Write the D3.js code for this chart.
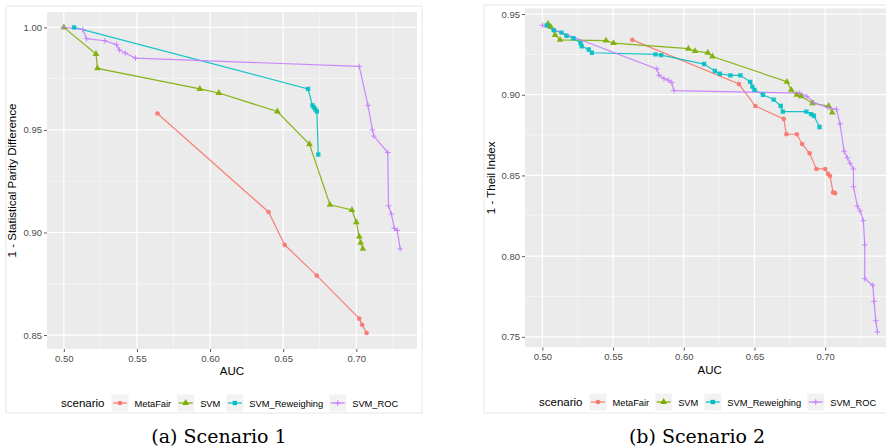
<!DOCTYPE html>
<html>
<head>
<meta charset="utf-8">
<script src="https://cdn.jsdelivr.net/npm/d3@7"></script>
<style>
  body { margin: 0; background: #fff; }
  svg { display: block; font-family: "Liberation Sans", Arial, sans-serif; }
</style>
</head>
<body>
<svg id="chart" width="886" height="447"></svg>
<script>
// Series names and colours (ggplot defaults)
const scenarios = ['MetaFair', 'SVM', 'SVM_Reweighing', 'SVM_ROC'];
const colors = ['#F8766D', '#7CAE00', '#00BFC4', '#C77CFF'];
const shapes = ['circle', 'triangle', 'square', 'plus'];

// Scenario 1: [AUC, 1 - Statistical Parity Difference]
const s1MetaFair = [[0.564, 0.958], [0.640, 0.910], [0.651, 0.894], [0.673, 0.879], [0.702, 0.858], [0.704, 0.855], [0.707, 0.851]];
const s1SVM = [[0.500, 1.000], [0.522, 0.987], [0.523, 0.980], [0.593, 0.970], [0.606, 0.968], [0.646, 0.959], [0.668, 0.943],
  [0.682, 0.9135], [0.697, 0.911], [0.700, 0.905], [0.702, 0.898], [0.703, 0.895], [0.7045, 0.892]];
const s1Reweighing = [[0.507, 1.000], [0.667, 0.970], [0.670, 0.962], [0.671, 0.961], [0.672, 0.960], [0.673, 0.959], [0.674, 0.938]];
const s1ROC = [[0.500, 1.000], [0.513, 0.999], [0.5155, 0.9945], [0.528, 0.9935], [0.536, 0.9916], [0.538, 0.989], [0.542, 0.9875],
  [0.549, 0.985], [0.702, 0.981], [0.708, 0.962], [0.711, 0.950], [0.712, 0.947], [0.7215, 0.939], [0.722, 0.913], [0.724, 0.909],
  [0.726, 0.902], [0.728, 0.901], [0.730, 0.892]];

// Scenario 2: [AUC, 1 - Theil Index]
const s2MetaFair = [[0.5636, 0.934], [0.639, 0.9066], [0.6506, 0.893], [0.6707, 0.885], [0.6726, 0.8755], [0.680, 0.8755],
  [0.6837, 0.8695], [0.689, 0.8637], [0.6938, 0.854], [0.700, 0.854], [0.702, 0.851], [0.7035, 0.8496], [0.7056, 0.8395], [0.707, 0.839]];
const s2SVM = [[0.504, 0.944], [0.506, 0.942], [0.509, 0.937], [0.5125, 0.934], [0.545, 0.9335], [0.5503, 0.932], [0.6033, 0.9285],
  [0.608, 0.927], [0.617, 0.926], [0.6203, 0.9237], [0.673, 0.908], [0.676, 0.903], [0.680, 0.900], [0.683, 0.899], [0.691, 0.8947],
  [0.7025, 0.893], [0.705, 0.889]];
const s2Reweighing = [[0.503, 0.943], [0.508, 0.940], [0.5135, 0.9385], [0.517, 0.9365], [0.522, 0.935], [0.527, 0.932], [0.5278, 0.930],
  [0.5328, 0.928], [0.535, 0.926], [0.580, 0.925], [0.584, 0.9245], [0.6144, 0.919], [0.622, 0.9147], [0.6255, 0.913], [0.633, 0.912],
  [0.640, 0.912], [0.647, 0.908], [0.6485, 0.905], [0.650, 0.903], [0.656, 0.900], [0.6636, 0.897], [0.6686, 0.893], [0.670, 0.8895],
  [0.6867, 0.8895], [0.690, 0.888], [0.692, 0.887], [0.696, 0.880]];
const s2ROC = [[0.500, 0.943], [0.581, 0.916], [0.5825, 0.912], [0.586, 0.910], [0.589, 0.909], [0.5915, 0.9075], [0.593, 0.9025],
  [0.682, 0.901], [0.687, 0.899], [0.692, 0.895], [0.702, 0.892], [0.708, 0.891], [0.7105, 0.882], [0.7134, 0.865], [0.7157, 0.861],
  [0.7176, 0.8575], [0.720, 0.854], [0.720, 0.843], [0.7228, 0.831], [0.7247, 0.828], [0.727, 0.822], [0.728, 0.807], [0.728, 0.786],
  [0.7337, 0.782], [0.7346, 0.772], [0.7358, 0.760], [0.737, 0.753]];

// Tick values
const xTicks = [0.50, 0.55, 0.60, 0.65, 0.70];
const xMinor = [0.525, 0.575, 0.625, 0.675, 0.725];
const y1Ticks = [0.85, 0.90, 0.95, 1.00];
const y1Minor = [0.875, 0.925, 0.975];
const y2Ticks = [0.75, 0.80, 0.85, 0.90, 0.95];
const y2Minor = [0.775, 0.825, 0.875, 0.925];

const svg = d3.select('#chart');

function markerPath(shape) {
  if (shape === 'circle') return d3.symbol(d3.symbolCircle, 17)();
  if (shape === 'triangle') return d3.symbol(d3.symbolTriangle, 20)();
  if (shape === 'square') return d3.symbol(d3.symbolSquare, 19)();
  return 'M-2.8,0H2.8M0,-2.8V2.8';
}

function drawMarker(g, shape, color) {
  const p = g.append('path').attr('d', markerPath(shape));
  if (shape === 'plus') p.attr('fill', 'none').attr('stroke', color).attr('stroke-width', 1);
  else p.attr('fill', color);
}

function drawPanel(cfg) {
  const g = svg.append('g');

  // white plot background with faint frame
  g.append('rect')
    .attr('x', cfg.bg[0]).attr('y', cfg.bg[1])
    .attr('width', cfg.bg[2]).attr('height', cfg.bg[3])
    .attr('fill', '#fff').attr('stroke', '#e6e6e6');

  const x = d3.scaleLinear().domain(cfg.xDomain).range([cfg.left, cfg.right]);
  const y = d3.scaleLinear().domain(cfg.yDomain).range([cfg.bottom, cfg.top]);

  const clipId = 'clip' + cfg.id;
  svg.append('clipPath').attr('id', clipId)
    .append('rect').attr('x', cfg.left).attr('y', cfg.top)
    .attr('width', cfg.right - cfg.left).attr('height', cfg.bottom - cfg.top);

  const panel = g.append('g').attr('clip-path', `url(#${clipId})`);
  panel.append('rect')
    .attr('x', cfg.left).attr('y', cfg.top)
    .attr('width', cfg.right - cfg.left).attr('height', cfg.bottom - cfg.top)
    .attr('fill', '#EBEBEB');

  // grid
  panel.selectAll('.vminor').data(xMinor).join('line')
    .attr('x1', d => x(d)).attr('x2', d => x(d)).attr('y1', cfg.top).attr('y2', cfg.bottom)
    .attr('stroke', '#fff').attr('stroke-width', 0.6).attr('opacity', 0.8);
  panel.selectAll('.hminor').data(cfg.yMinor).join('line')
    .attr('y1', d => y(d)).attr('y2', d => y(d)).attr('x1', cfg.left).attr('x2', cfg.right)
    .attr('stroke', '#fff').attr('stroke-width', 0.6).attr('opacity', 0.8);
  panel.selectAll('.vmajor').data(xTicks).join('line')
    .attr('x1', d => x(d)).attr('x2', d => x(d)).attr('y1', cfg.top).attr('y2', cfg.bottom)
    .attr('stroke', '#fff').attr('stroke-width', 1.2);
  panel.selectAll('.hmajor').data(cfg.yTicks).join('line')
    .attr('y1', d => y(d)).attr('y2', d => y(d)).attr('x1', cfg.left).attr('x2', cfg.right)
    .attr('stroke', '#fff').attr('stroke-width', 1.2);

  // lines then points
  const line = d3.line().x(d => x(d[0])).y(d => y(d[1]));
  cfg.series.forEach((s, i) => {
    panel.append('path').datum(s)
      .attr('d', line).attr('fill', 'none')
      .attr('stroke', colors[i]).attr('stroke-width', 1.2).attr('opacity', 0.9);
  });
  cfg.series.forEach((s, i) => {
    s.forEach(d => {
      const m = panel.append('g').attr('transform', `translate(${x(d[0])},${y(d[1])})`).attr('opacity', 0.9);
      drawMarker(m, shapes[i], colors[i]);
    });
  });

  // axes
  const xAxis = g.append('g').attr('transform', `translate(0,${cfg.bottom})`)
    .call(d3.axisBottom(x).tickValues(xTicks).tickFormat(d3.format('.2f')).tickSize(3).tickPadding(3));
  const yAxis = g.append('g').attr('transform', `translate(${cfg.left},0)`)
    .call(d3.axisLeft(y).tickValues(cfg.yTicks).tickFormat(d3.format('.2f')).tickSize(3).tickPadding(2));
  [xAxis, yAxis].forEach(a => {
    a.select('.domain').remove();
    a.selectAll('.tick line').attr('stroke', '#333').attr('stroke-width', 0.8);
    a.selectAll('.tick text').attr('fill', '#4D4D4D').style('font-size', '9.5px')
      .style('font-family', '"Liberation Sans", Arial, sans-serif');
  });

  // axis titles
  g.append('text')
    .attr('x', (cfg.left + Math.min(cfg.right, 886 + (cfg.right - 886))) / 2 + cfg.xTitleShift)
    .attr('y', cfg.bottom + 26)
    .attr('text-anchor', 'middle').style('font-size', '11.5px').attr('fill', '#000')
    .text('AUC');
  g.append('text')
    .attr('transform', `translate(${cfg.yTitleX},${(cfg.top + cfg.bottom) / 2}) rotate(-90)`)
    .attr('text-anchor', 'middle').style('font-size', '11.5px').attr('fill', '#000')
    .text(cfg.yTitle);

  // legend
  const leg = g.append('g').attr('transform', `translate(${cfg.legendX},${cfg.legendY})`);
  const title = leg.append('text').attr('x', 0).attr('y', 4).style('font-size', '11.5px').text('scenario');
  let cx = title.node().getComputedTextLength() + 7;
  scenarios.forEach((name, i) => {
    leg.append('rect').attr('x', cx).attr('y', -8.5).attr('width', 17).attr('height', 17).attr('fill', '#F2F2F2');
    leg.append('line').attr('x1', cx + 1.5).attr('x2', cx + 15.5).attr('y1', 0).attr('y2', 0)
      .attr('stroke', colors[i]).attr('stroke-width', 1.2);
    drawMarker(leg.append('g').attr('transform', `translate(${cx + 8.5},0)`), shapes[i], colors[i]);
    const t = leg.append('text').attr('x', cx + 23).attr('y', 3.5).style('font-size', '9.3px').text(name);
    cx += 23 + t.node().getComputedTextLength() + 6;
  });

  // caption
  svg.append('text')
    .attr('x', cfg.captionX).attr('y', 443)
    .attr('text-anchor', 'middle')
    .style('font-family', '"DejaVu Serif", serif').style('font-size', '19px')
    .text(cfg.caption);
}

drawPanel({
  id: 1,
  bg: [6, 6, 416, 407],
  left: 47, right: 417, top: 12, bottom: 349,
  xDomain: [0.4885, 0.7415], yDomain: [0.8432, 1.0075],
  yTicks: y1Ticks, yMinor: y1Minor,
  series: [s1MetaFair, s1SVM, s1Reweighing, s1ROC],
  yTitle: '1 - Statistical Parity Difference', yTitleX: 16,
  xTitleShift: 0,
  legendX: 61, legendY: 403,
  caption: '(a) Scenario 1', captionX: 219
});

drawPanel({
  id: 2,
  bg: [484, 5, 410, 408],
  left: 525, right: 894.3, top: 8.2, bottom: 347.5,
  xDomain: [0.4877, 0.7489], yDomain: [0.7434, 0.9536],
  yTicks: y2Ticks, yMinor: y2Minor,
  series: [s2MetaFair, s2SVM, s2Reweighing, s2ROC],
  yTitle: '1 - Theil Index', yTitleX: 495,
  xTitleShift: 0,
  legendX: 539, legendY: 402,
  caption: '(b) Scenario 2', captionX: 697
});
</script>
</body>
</html>
